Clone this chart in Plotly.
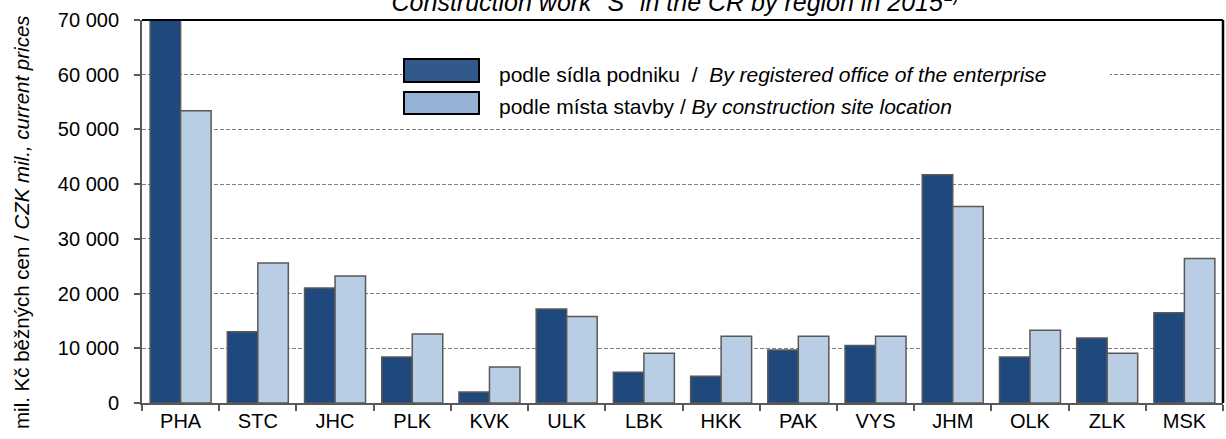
import plotly.graph_objects as go

regions = ["PHA", "STC", "JHC", "PLK", "KVK", "ULK", "LBK", "HKK", "PAK", "VYS", "JHM", "OLK", "ZLK", "MSK"]
by_office = [71500, 13000, 21000, 8400, 2000, 17200, 5600, 4900, 9700, 10500, 41700, 8400, 11900, 16500]
by_site = [53400, 25600, 23200, 12600, 6600, 15800, 9100, 12200, 12200, 12200, 35900, 13300, 9100, 26400]

name_office = "podle sídla podniku&nbsp;&nbsp;/&nbsp;&nbsp;<i>By registered office of the enterprise</i>"
name_site = "podle místa stavby / <i>By construction site location</i>"
title_text = "<i>Construction work \"S\" in the CR by region in 2015</i><sup>1)</sup>"
ytitle = "mil. Kč běžných cen / <i>CZK mil., current prices</i>"

W, H = 1226, 439
L, R, T, B = 142, 3, 20, 36
PW, PH = W - L - R, H - T - B

def px(x):
    return (x - L) / PW

def py(y):
    return (H - B - y) / PH

DARK = "#1F497D"
LIGHT = "#B9CDE5"
FONT = "Liberation Sans, Arial, sans-serif"

fig = go.Figure()
fig.add_trace(go.Bar(x=regions, y=by_office, name="office", marker=dict(color=DARK, line=dict(color="#595959", width=1.5)), showlegend=False))
fig.add_trace(go.Bar(x=regions, y=by_site, name="site", marker=dict(color=LIGHT, line=dict(color="#595959", width=1.5)), showlegend=False))

shapes = [
    dict(type="rect", xref="paper", yref="paper", x0=px(402), x1=px(1110), y0=py(118), y1=py(56),
         fillcolor="white", line=dict(width=0), layer="above"),
    dict(type="rect", xref="paper", yref="paper", x0=px(404), x1=px(479), y0=py(82), y1=py(59),
         fillcolor="#31598A", line=dict(color="black", width=2), layer="above"),
    dict(type="rect", xref="paper", yref="paper", x0=px(404), x1=px(479), y0=py(114), y1=py(92),
         fillcolor="#95B3D7", line=dict(color="black", width=2), layer="above"),
    dict(type="line", xref="paper", yref="paper", x0=0, x1=1, y0=1, y1=1, line=dict(color="black", width=2), layer="above"),
    dict(type="line", xref="paper", yref="paper", x0=1, x1=1, y0=0, y1=1, line=dict(color="black", width=2.5), layer="above"),
]

annotations = [
    dict(text=name_office, xref="paper", yref="paper", x=px(497), y=py(74), xanchor="left", yanchor="middle",
         showarrow=False, font=dict(size=21, color="black", family=FONT)),
    dict(text=name_site, xref="paper", yref="paper", x=px(497), y=py(106), xanchor="left", yanchor="middle",
         showarrow=False, font=dict(size=21, color="black", family=FONT)),
    dict(text=ytitle, xref="paper", yref="paper", x=px(21), y=py(222), xanchor="center", yanchor="middle",
         textangle=-90, showarrow=False, font=dict(size=20.5, color="black", family=FONT)),
]

fig.update_layout(
    width=W, height=H,
    margin=dict(l=L, r=R, t=T, b=B),
    paper_bgcolor="white", plot_bgcolor="white",
    separators=", ",
    barmode="group", bargap=0.21, bargroupgap=0,
    font=dict(family=FONT, size=20, color="black"),
    title=dict(text=title_text, x=675 / W, xanchor="center", xref="container",
               y=0.994, yanchor="middle", yref="container",
               font=dict(size=25, color="black", family=FONT)),
    shapes=shapes, annotations=annotations,
)
fig.update_xaxes(showline=True, linecolor="#595959", linewidth=2, ticks="outside", tickson="boundaries",
                 ticklen=6, tickcolor="#595959", tickwidth=2, showgrid=False,
                 tickfont=dict(size=20, color="black"), range=[-0.5, 13.5], ticklabelstandoff=-1)
fig.update_yaxes(range=[0, 70000], dtick=10000, tickformat=",.0f", showline=True, linecolor="#595959", linewidth=2,
                 ticks="outside", ticklen=6, tickcolor="#595959", tickwidth=2,
                 showgrid=True, gridcolor="#808080", gridwidth=1, griddash="4px,2px",
                 zeroline=False, tickfont=dict(size=20, color="black"), ticklabelstandoff=11)

fig.write_html("out.html", config={"displayModeBar": False},
               post_script="document.body.style.margin='0';document.body.style.padding='0';")
